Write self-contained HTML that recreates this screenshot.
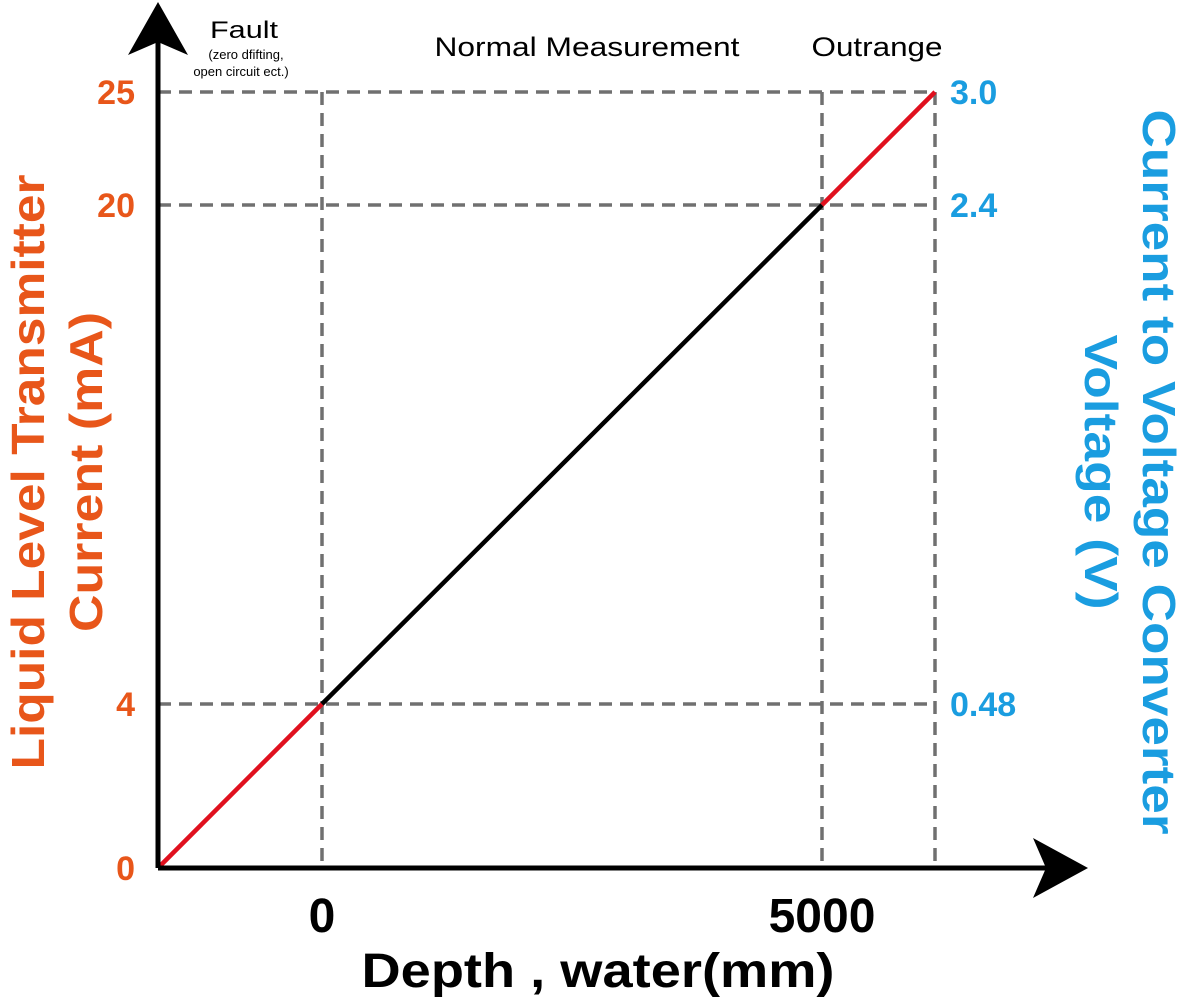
<!DOCTYPE html>
<html><head><meta charset="utf-8"><style>
html,body{margin:0;padding:0;background:#fff;}
svg{display:block;font-family:"Liberation Sans",sans-serif;}
</style></head><body>
<svg id="chart" width="1187" height="1001" viewBox="0 0 1187 1001">
<g id="grid"></g>
<g id="series"></g>
<g>
  <line x1="158" y1="868" x2="158" y2="40" stroke="#000" stroke-width="5"/>
  <line x1="158" y1="868" x2="1050" y2="868" stroke="#000" stroke-width="5"/>
  <path d="M158,2 L188,55 L158,42 L128,55 Z" fill="#000"/>
  <path d="M1088,868 L1033,838 L1046,868 L1033,898 Z" fill="#000"/>
</g>
<g id="ticks" font-weight="bold"></g>
<text x="244" y="38" font-size="24" text-anchor="middle" textLength="68" lengthAdjust="spacingAndGlyphs">Fault</text>
<text x="246" y="59" font-size="13" text-anchor="middle">(zero dfifting,</text>
<text x="241" y="76" font-size="13" text-anchor="middle">open circuit ect.)</text>
<text x="587" y="56" font-size="27" text-anchor="middle" textLength="305" lengthAdjust="spacingAndGlyphs">Normal Measurement</text>
<text x="877" y="56" font-size="27" text-anchor="middle" textLength="131" lengthAdjust="spacingAndGlyphs">Outrange</text>
<text x="598" y="987" font-size="48" font-weight="bold" text-anchor="middle" textLength="473" lengthAdjust="spacingAndGlyphs">Depth , water(mm)</text>
<g transform="translate(0,472) rotate(-90)" fill="#e8561a" font-size="46" font-weight="bold" text-anchor="middle">
  <text x="0" y="44" textLength="595" lengthAdjust="spacingAndGlyphs">Liquid Level Transmitter</text>
  <text x="0" y="102" textLength="320" lengthAdjust="spacingAndGlyphs">Current (mA)</text>
</g>
<g transform="translate(1187,472) rotate(90)" fill="#1a9de0" font-size="46" font-weight="bold" text-anchor="middle">
  <text x="0" y="44" textLength="725" lengthAdjust="spacingAndGlyphs">Current to Voltage Converter</text>
  <text x="0" y="102" textLength="275" lengthAdjust="spacingAndGlyphs">Voltage (V)</text>
</g>
</svg>
<script>
const depths = [-1640, 0, 5000, 6130];
const currents = [0, 4, 20, 25];
const segColors = ["#e0101e", "#000000", "#e0101e"];
const yTickValues = [0, 4, 20, 25];
const yTickLabels = ["0", "4", "20", "25"];
const y2TickLabels = ["", "0.48", "2.4", "3.0"];
const xTickValues = [0, 5000];
const xTickLabels = ["0", "5000"];
const NS = "http://www.w3.org/2000/svg";
// schematic (non-linear) y axis: anchor pixels per tick
const yAnchorPx = [868, 704, 205, 92];
function xScale(v){ return 322 + (v - 0) * 0.1; }
function yScale(v){
  for (let i = 0; i < yTickValues.length - 1; i++) {
    const a = yTickValues[i], b = yTickValues[i+1];
    if (v <= b || i === yTickValues.length - 2) {
      return yAnchorPx[i] + (v - a) / (b - a) * (yAnchorPx[i+1] - yAnchorPx[i]);
    }
  }
}
function mk(tag, attrs, parent){ const e = document.createElementNS(NS, tag); for (const k in attrs) e.setAttribute(k, attrs[k]); parent.appendChild(e); return e; }
const grid = document.getElementById("grid"), series = document.getElementById("series"), ticks = document.getElementById("ticks");
const xMax = xScale(depths[depths.length-1]);
for (let i = 1; i < currents.length; i++) {
  const l = mk("line", {x1:158, x2:xMax, y1:yScale(currents[i]), y2:yScale(currents[i]), stroke:"#707070", "stroke-width":3.5, "stroke-dasharray":"13 8"}, grid);
  
  
}
for (let i = 1; i < depths.length; i++) {
  const l = mk("line", {x1:xScale(depths[i]), x2:xScale(depths[i]), y1:yScale(currents[currents.length-1]), y2:868, stroke:"#707070", "stroke-width":3.5, "stroke-dasharray":"13 8"}, grid);
  
  
}
for (let i = 0; i < depths.length - 1; i++) {
  const s = mk("line", {x1:xScale(depths[i]), y1:yScale(currents[i]), x2:xScale(depths[i+1]), y2:yScale(currents[i+1]), stroke:segColors[i], "stroke-width":4.5}, series);
  
  
}
for (let i = 0; i < yTickValues.length; i++) {
  const t = mk("text", {x:135, y:yScale(yTickValues[i]) + 12, "font-size":34, fill:"#e8561a", "text-anchor":"end"}, ticks);
  t.textContent = yTickLabels[i];
  
  
  if (y2TickLabels[i]) {
    const r = mk("text", {x:950, y:yScale(yTickValues[i]) + 12, "font-size":34, fill:"#1a9de0"}, ticks);
    r.textContent = y2TickLabels[i];
    
    
  }
}
for (let i = 0; i < xTickValues.length; i++) {
  const t = mk("text", {x:xScale(xTickValues[i]), y:932, "font-size":48, fill:"#000", "text-anchor":"middle"}, ticks);
  t.textContent = xTickLabels[i];
  
  
}
</script>
</body></html>
